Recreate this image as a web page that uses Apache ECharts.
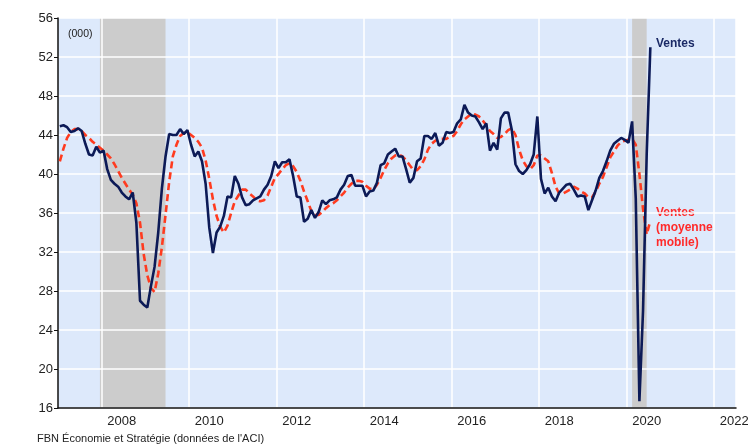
<!DOCTYPE html>
<html>
<head>
<meta charset="utf-8">
<title>Ventes</title>
<script src="https://cdn.jsdelivr.net/npm/echarts@6.0.0/dist/echarts.min.js"></script>
<style>
  html, body { margin: 0; padding: 0; background: #fff; }
  #chart { width: 748px; height: 446px; }
</style>
</head>
<body>
<div id="chart"></div>
<script>
  // monthly categories, Jan 2007 -> Jun 2022 (axis runs to mid 2022)
  const months = [];
  for (let y = 2007; y <= 2022; y++) {
    for (let m = 1; m <= 12; m++) {
      if (y === 2022 && m > 6) break;
      months.push(y + '-' + (m < 10 ? '0' + m : m));
    }
  }

  const yTicks = [16, 20, 24, 28, 32, 36, 40, 44, 48, 52, 56];
  const yearLabels = ['2008', '2010', '2012', '2014', '2016', '2018', '2020', '2022'];

  // Ventes (000), Jan 2007 -> Jul 2020
  const sales = [
    44.9, 45.0, 44.8, 44.3, 44.4, 44.7, 44.4, 43.1, 42.0, 41.9, 42.8, 42.2,
    42.4, 40.5, 39.4, 39.0, 38.7, 38.1, 37.7, 37.4, 38.1, 35.0, 27.0, 26.6,
    26.3, 28.5, 30.5, 34.0, 38.5, 41.8, 44.1, 44.0, 44.0, 44.6, 44.1, 44.5,
    43.0, 41.8, 42.3, 41.3, 39.0, 34.5, 31.9, 34.0, 34.6, 35.7, 37.7, 37.6,
    39.8, 39.0, 37.6, 36.8, 36.9, 37.3, 37.5, 37.7, 38.4, 38.9, 39.8, 41.3,
    40.6, 41.2, 41.2, 41.5, 39.8, 37.7, 37.6, 35.1, 35.4, 36.3, 35.5, 36.1,
    37.3, 36.9, 37.3, 37.4, 37.6, 38.4, 38.9, 39.8, 39.9, 38.8, 38.8, 38.8,
    37.7, 38.2, 38.3, 39.1, 40.9, 41.1, 42.0, 42.3, 42.6, 41.8, 41.8, 40.5,
    39.1, 39.6, 41.3, 41.6, 43.9, 43.9, 43.6, 44.2, 42.9, 43.2, 44.3, 44.2,
    44.3, 45.2, 45.6, 47.1, 46.3, 46.0, 45.9, 45.3, 44.6, 45.2, 42.4, 43.2,
    42.5, 45.7, 46.3, 46.3, 44.5, 41.0, 40.3, 40.0, 40.4, 41.0, 42.0, 45.9,
    39.5, 38.0, 38.6, 37.7, 37.2, 38.1, 38.5, 38.9, 39.0, 38.4, 37.7, 37.8,
    37.7, 36.3, 37.3, 38.3, 39.6, 40.3, 41.3, 42.4, 43.1, 43.4, 43.7, 43.5,
    43.2, 45.4, 37.5, 16.7, 26.0, 42.0, 53.0
  ];

  // Ventes (moyenne mobile)
  const movingAvg = [
    41.3, 42.6, 43.7, 44.3, 44.6, 44.6, 44.4, 44.0, 43.7, 43.3, 43.0, 42.7,
    42.4, 42.0, 41.6, 41.0, 40.3, 39.6, 39.0, 38.4, 37.9, 37.0, 35.0, 31.8,
    29.6, 28.3, 27.9, 29.8, 32.5, 35.8, 39.2, 41.8, 43.0, 43.9, 44.2, 44.3,
    44.0, 43.7, 43.3, 42.7, 41.4, 39.5, 37.4, 35.7, 34.6, 34.0, 34.7, 36.0,
    37.2, 37.8, 38.4, 38.4, 38.0, 37.7, 37.3, 37.2, 37.3, 37.8, 38.7, 39.6,
    40.0, 40.5, 40.9, 41.1, 40.8, 40.2, 39.3, 38.2, 37.2, 36.2, 35.8, 35.8,
    36.1, 36.5, 36.8, 37.0, 37.3, 37.7, 38.1, 38.6, 39.0, 39.3, 39.3, 39.2,
    38.8, 38.5, 38.4, 38.9, 39.6, 40.4, 41.1, 41.6, 41.9, 42.0, 41.8, 41.4,
    40.9, 40.4, 40.4, 40.8, 41.5, 42.5, 43.1, 43.4, 43.6, 43.6, 43.6, 43.8,
    43.9, 44.4, 45.1, 45.6, 45.9, 46.2, 46.1, 45.9, 45.5, 45.0, 44.4, 44.1,
    43.7, 43.8, 44.1, 44.5, 44.7, 44.0, 42.5, 41.4, 40.8, 40.5, 40.9, 41.9,
    41.9, 41.6, 41.3, 40.1, 38.7, 38.0, 38.0, 38.2, 38.4, 38.7, 38.5, 38.2,
    38.0, 37.6, 37.6, 38.2, 39.0, 39.7, 40.7, 41.7, 42.3, 42.9, 43.3, 43.4,
    43.5, 43.6, 43.0, 40.0, 36.4, 33.8, 35.2
  ];

  // shaded periods (recessions)
  const recessions = [['2007-12', '2009-06'], ['2020-02', '2020-06']];

  const isEvenJan = (v) => v.slice(5) === '01' && (+v.slice(0, 4)) % 2 === 0;

  let myChart = echarts.init(document.getElementById('chart'));
  let option = {
    animation: false,
    backgroundColor: '#ffffff',
    textStyle: { fontFamily: 'Liberation Sans, Arial, sans-serif' },
    grid: {
      left: 58, right: 12, top: 18, bottom: 38,
      outerBoundsMode: 'none',
      containLabel: false,
      show: true, backgroundColor: '#dde9fb', borderWidth: 0
    },
    xAxis: [
      {
        type: 'category',
        data: months,
        boundaryGap: true,
        z: 2,
        axisLine: { lineStyle: { color: '#111', width: 1.5 } },
        axisTick: { interval: 0, length: 3, lineStyle: { color: '#333', width: 1 } },
        axisLabel: {
          interval: (i, v) => v.slice(5) === '06' && yearLabels.indexOf(v.slice(0, 4)) >= 0,
          formatter: (v) => v.slice(0, 4),
          color: '#222', fontSize: 13, margin: 7
        },
        splitLine: {
          show: true,
          interval: (i, v) => isEvenJan(v),
          lineStyle: { color: '#ffffff', width: 1.5 }
        }
      },
      {
        type: 'category',
        data: months,
        boundaryGap: true,
        position: 'bottom',
        z: 2,
        axisLine: { show: false },
        axisTick: { interval: (i, v) => v.slice(5) === '01', length: 6, lineStyle: { color: '#222', width: 1 } },
        axisLabel: { show: false },
        splitLine: { show: false }
      }
    ],
    yAxis: {
      type: 'value',
      min: yTicks[0],
      max: yTicks[yTicks.length - 1],
      interval: 4,
      z: 2,
      axisLine: { show: true, lineStyle: { color: '#111', width: 1.5 } },
      axisTick: { show: true, length: 4, lineStyle: { color: '#111' } },
      axisLabel: { color: '#222', fontSize: 13, margin: 5 },
      splitLine: { lineStyle: { color: '#ffffff', width: 1.5 } }
    },
    series: [
      {
        name: 'bands',
        type: 'line',
        data: [],
        z: 1,
        silent: true,
        markArea: {
          silent: true,
          itemStyle: { color: '#cccccc' },
          data: recessions.map(r => [{ xAxis: r[0] }, { xAxis: r[1] }])
        }
      },
      {
        name: 'Ventes (moyenne mobile)',
        type: 'line',
        data: movingAvg,
        symbol: 'none',
        z: 3,
        lineStyle: { color: '#ff3b1f', width: 2.6, type: [7, 4] }
      },
      {
        name: 'Ventes',
        type: 'line',
        data: sales,
        symbol: 'none',
        z: 4,
        lineStyle: { color: '#0c1a57', width: 2.6 }
      }
    ],
    graphic: [
      { type: 'text', left: 68, top: 29, style: { text: '(000)', fill: '#222', fontSize: 10.5, fontFamily: 'Liberation Sans, Arial' } },
      { type: 'text', left: 656, top: 38, style: { text: 'Ventes', fill: '#1b2a66', fontSize: 12, fontWeight: 'bold', fontFamily: 'Liberation Sans, Arial' } },
      { type: 'text', left: 656, top: 205, style: { text: 'Ventes\n(moyenne\nmobile)', fill: '#ff2a2a', fontSize: 12, fontWeight: 'bold', lineHeight: 15, fontFamily: 'Liberation Sans, Arial' } },
      { type: 'text', left: 37, top: 433, style: { text: "FBN Économie et Stratégie (données de l'ACI)", fill: '#222', fontSize: 11, fontFamily: 'Liberation Sans, Arial' } }
    ]
  };
  myChart.setOption(option);
</script>
</body>
</html>
